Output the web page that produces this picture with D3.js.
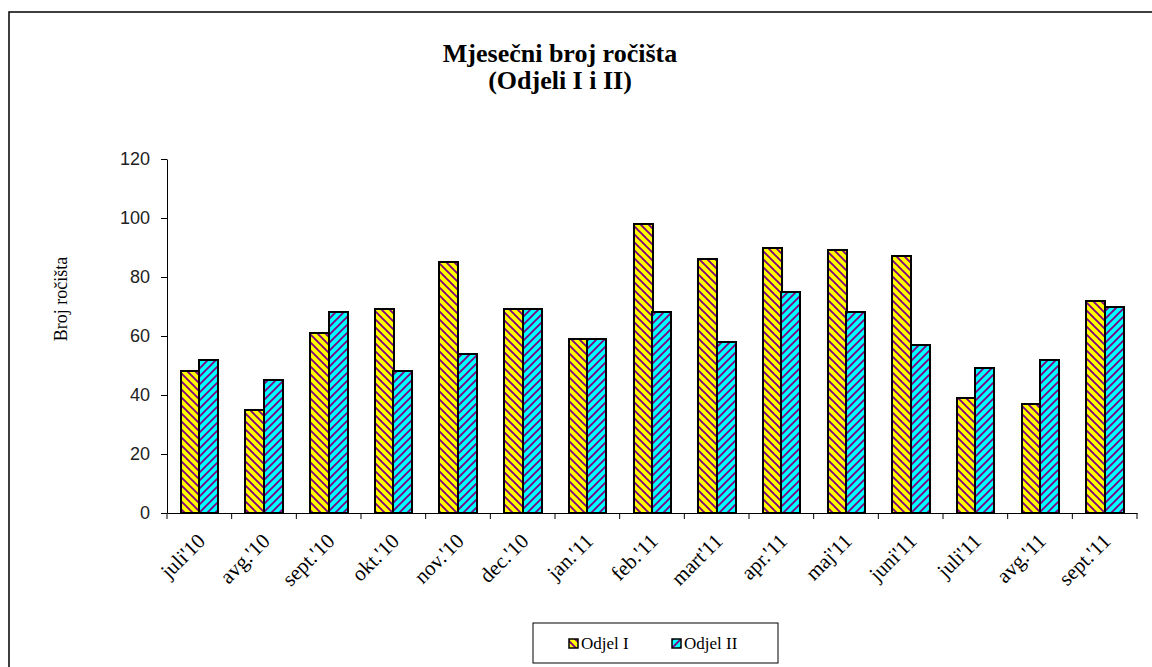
<!DOCTYPE html>
<html><head><meta charset="utf-8">
<script src="https://cdn.jsdelivr.net/npm/d3@7"></script>
<style>body{margin:0;background:#fff}svg{display:block}</style>
</head><body><svg id="c" width="1152" height="667"></svg>
<script>
const categories = ["juli'10","avg.'10","sept.'10","okt.'10","nov.'10","dec.'10","jan.'11","feb.'11","mart'11","apr.'11","maj'11","juni'11","juli'11","avg.'11","sept.'11"];
const odjelI  = [48,35,61,69,85,69,59,98,86,90,89,87,39,37,72];
const odjelII = [52,45,68,48,54,69,59,68,58,75,68,57,49,52,70];
const seriesNames = ["Odjel I","Odjel II"];
const yTicks = [0,20,40,60,80,100,120];

const svg = d3.select("#c");
const defs = svg.append("defs");
function pat(id, bg, dir){
  const N = 8;
  const p = defs.append("pattern").attr("id",id).attr("patternUnits","userSpaceOnUse")
    .attr("width",N).attr("height",N);
  p.append("rect").attr("width",N).attr("height",N).attr("fill",bg);
  const d = dir>0 ? "M-2,-2 L10,10 M-6,2 L2,10 M6,-2 L10,2" : "M-2,10 L10,-2 M-6,6 L2,-2 M6,10 L10,6";
  p.append("path").attr("d",d).attr("stroke","#800080").attr("stroke-width",1.9);
}
pat("pI","#ffff00",1);
pat("pII","#00ffff",-1);
const fills = ["url(#pI)","url(#pII)"];

// outer border
svg.append("rect").attr("x",9).attr("y",12).attr("width",1160).attr("height",680)
  .attr("fill","none").attr("stroke","#000").attr("stroke-width",1.5);

// title
const tt = svg.append("text").attr("text-anchor","middle").attr("font-family","Liberation Serif, serif")
  .attr("font-weight","bold").attr("font-size",26);
tt.append("tspan").attr("x",560).attr("y",62).text("Mjesečni broj ročišta");
tt.append("tspan").attr("x",560).attr("y",89).text("(Odjeli I i II)");

const x0 = d3.scaleBand().domain(categories).range([167,1137]);
const x1 = d3.scaleBand().domain(seriesNames).range([0,37]);
const y = d3.scaleLinear().domain([0,120]).range([513,159]);

// y axis
const ya = svg.append("g").attr("transform","translate(167,0)")
  .call(d3.axisLeft(y).tickValues(yTicks).tickSize(6).tickSizeOuter(0).tickPadding(11));
ya.select(".domain").attr("stroke","#000");
ya.selectAll(".tick line").attr("stroke","#000");
ya.selectAll("text").attr("font-family","Liberation Sans, Arial, sans-serif").attr("font-size",18).attr("fill","#222");

// x axis
const xa = svg.append("g").attr("transform","translate(0,513)")
  .call(d3.axisBottom(x0).tickSize(0).tickSizeOuter(0));
xa.selectAll(".tick line").remove();
xa.select(".domain").attr("stroke","#000");
xa.selectAll(".tick text").attr("font-family","Liberation Serif, serif").attr("font-size",21).attr("fill","#000")
  .attr("text-anchor","end").attr("dy","0.35em").attr("y",0)
  .attr("transform","translate(2,24) rotate(-45)");
// category boundary ticks
svg.append("g").selectAll("line").data(categories.concat([""])).join("line")
  .attr("x1",(d,i)=>167+i*x0.step()).attr("x2",(d,i)=>167+i*x0.step())
  .attr("y1",513).attr("y2",519).attr("stroke","#000");

// bars (absolute, integer-snapped so the hatch pattern stays crisp)
const barData = [];
categories.forEach((c,i)=>{
  [odjelI[i],odjelII[i]].forEach((v,j)=>barData.push({c,v,j}));
});
svg.append("g").selectAll("rect").data(barData).join("rect")
  .attr("x",d=>Math.round(x0(d.c)+x0.bandwidth()/2-18.5+x1(seriesNames[d.j])))
  .attr("width",Math.round(x1.bandwidth()))
  .attr("y",d=>Math.round(y(d.v))).attr("height",d=>513-Math.round(y(d.v)))
  .attr("fill",d=>fills[d.j]).attr("stroke","#000").attr("stroke-width",2);

// y title
svg.append("text").attr("transform","translate(67,299) rotate(-90)").attr("text-anchor","middle")
  .attr("font-family","Liberation Serif, serif").attr("font-size",18).text("Broj ročišta");

// legend
svg.append("rect").attr("x",533).attr("y",623).attr("width",245).attr("height",40)
  .attr("fill","#fff").attr("stroke","#000").attr("stroke-width",1);
const lx = [569,672];
seriesNames.forEach((n,i)=>{
  svg.append("rect").attr("x",lx[i]).attr("y",639).attr("width",9).attr("height",9)
    .attr("fill",fills[i]).attr("stroke","#000").attr("stroke-width",1.5);
  svg.append("text").attr("x",lx[i]+12).attr("y",649).attr("font-family","Liberation Serif, serif")
    .attr("font-size",17).text(n);
});
</script></body></html>
